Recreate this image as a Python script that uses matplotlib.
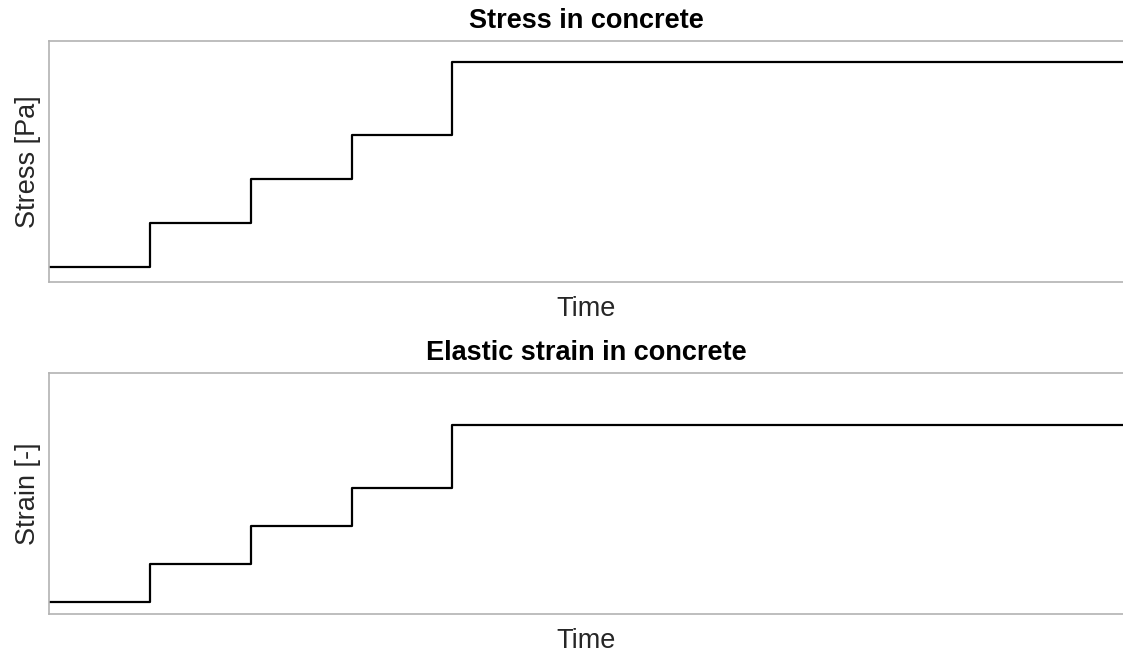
import matplotlib.pyplot as plt

plt.rcParams['font.family'] = ['Liberation Sans', 'DejaVu Sans']

# load steps (time in arbitrary units), levels
time = [0, 1, 2, 3, 4, 10.65]
stress = [1.0, 2.0, 3.0, 4.0, 5.67, 5.67]
strain = [1.0, 2.0, 3.0, 4.0, 5.65, 5.65]

dark = '.15'
spine_col = '0.7'

fig = plt.figure(figsize=(11.23, 6.55), dpi=100)
ax1 = fig.add_axes([49 / 1123, 1 - 282 / 655, 1 - 49 / 1123, 241 / 655])
ax2 = fig.add_axes([49 / 1123, 1 - 614 / 655, 1 - 49 / 1123, 241 / 655])


def style(ax, title, ylabel):
    ax.set_title(title, fontsize=19.5, fontweight='bold', color='black', pad=9)
    ax.set_xlabel('Time', fontsize=19.5, color=dark, labelpad=10)
    ax.set_ylabel(ylabel, fontsize=19.5, color=dark, labelpad=6)
    ax.set_xticks([])
    ax.set_yticks([])
    for s in ax.spines.values():
        s.set_color(spine_col)
        s.set_linewidth(1.2)
    # the original is cut off at the right edge
    ax.spines['right'].set_visible(False)


ax1.step(time, stress, where='post', color='black', lw=1.6)
ax1.set_xlim(0, 10.65)
ax1.set_ylim(0.66, 6.14)
style(ax1, 'Stress in concrete', 'Stress [Pa]')

ax2.step(time, strain, where='post', color='black', lw=1.6)
ax2.set_xlim(0, 10.65)
ax2.set_ylim(0.676, 7.02)
style(ax2, 'Elastic strain in concrete', 'Strain [-]')

fig.savefig('out.png', dpi=100)
